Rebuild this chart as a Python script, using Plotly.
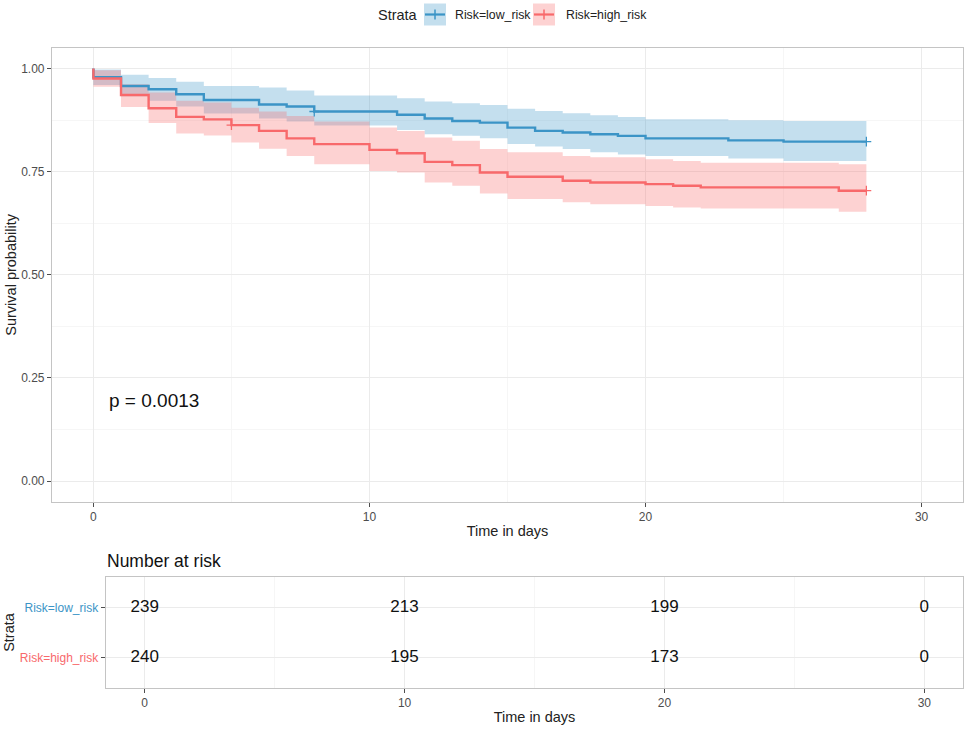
import plotly.graph_objects as go

# ---------------- data ----------------
end_time = 28
times_low = [0, 1, 2, 3, 4, 6, 7, 8, 11, 12, 13, 14, 15, 16, 17, 18, 19, 20, 23, 25]
surv_low = [0.979, 0.958, 0.950, 0.938, 0.924, 0.913, 0.908, 0.896, 0.888, 0.879,
            0.873, 0.869, 0.857, 0.849, 0.845, 0.841, 0.837, 0.831, 0.826, 0.823]
lower_low = [0.960, 0.933, 0.922, 0.908, 0.891, 0.879, 0.872, 0.862, 0.851, 0.841,
             0.837, 0.831, 0.817, 0.811, 0.805, 0.797, 0.792, 0.788, 0.782, 0.776]
upper_low = [0.998, 0.985, 0.977, 0.968, 0.958, 0.954, 0.947, 0.935, 0.928, 0.920,
             0.916, 0.912, 0.903, 0.897, 0.892, 0.887, 0.883, 0.877, 0.875, 0.873]
censor_low = [8, 28]

times_high = [0, 1, 2, 3, 4, 5, 6, 7, 8, 10, 11, 12, 13, 14, 15, 17, 18, 20, 21, 22, 27]
surv_high = [0.976, 0.936, 0.904, 0.883, 0.877, 0.863, 0.849, 0.831, 0.817, 0.803, 0.795,
             0.774, 0.766, 0.748, 0.738, 0.728, 0.724, 0.720, 0.716, 0.712, 0.704]
lower_high = [0.956, 0.907, 0.868, 0.843, 0.838, 0.821, 0.806, 0.788, 0.768, 0.752, 0.748,
              0.724, 0.716, 0.697, 0.684, 0.676, 0.671, 0.667, 0.663, 0.661, 0.653]
upper_high = [0.996, 0.962, 0.942, 0.922, 0.918, 0.905, 0.896, 0.885, 0.872, 0.857, 0.849,
              0.833, 0.825, 0.805, 0.797, 0.788, 0.785, 0.780, 0.776, 0.772, 0.768]
censor_high = [5, 28]

strata = ["Risk=low_risk", "Risk=high_risk"]
risk_times = [0, 10, 20, 30]
risk_low = [239, 213, 199, 0]
risk_high = [240, 195, 173, 0]
p_text = "p = 0.0013"

# ---------------- styles ----------------
W, H = 968, 730
BLUE = "#3B94C6"
RED = "#F8696B"
BLUE_F = "rgba(59,148,198,0.30)"
RED_F = "rgba(248,105,107,0.30)"
GRID = "#EBEBEB"
MINOR = "#F6F6F6"
BORDER = "#C4C4C4"
TICKC = "#4D4D4D"
FONT = "Liberation Sans, Arial, sans-serif"


def px(x):
    return x / W


def py(y):
    return 1 - y / H


def step_xy(times, vals):
    xs = [0] + list(times) + [end_time]
    ys = [1.0] + list(vals) + [vals[-1]]
    return xs, ys


def surv_at(times, vals, t):
    s = 1.0
    for ti, v in zip(times, vals):
        if ti <= t:
            s = v
    return s


fig = go.Figure()

groups = [
    (times_low, surv_low, lower_low, upper_low, censor_low, BLUE, BLUE_F, strata[0]),
    (times_high, surv_high, lower_high, upper_high, censor_high, RED, RED_F, strata[1]),
]

for times, surv, lo, up, cens, col, fcol, name in groups:
    xl, yl = step_xy(times, lo)
    xu, yu = step_xy(times, up)
    fig.add_trace(go.Scatter(x=xl, y=yl, mode="lines", line=dict(width=0, shape="hv"),
                             showlegend=False, hoverinfo="skip", xaxis="x", yaxis="y"))
    fig.add_trace(go.Scatter(x=xu, y=yu, mode="lines", line=dict(width=0, shape="hv"),
                             fill="tonexty", fillcolor=fcol, showlegend=False,
                             hoverinfo="skip", xaxis="x", yaxis="y"))

for times, surv, lo, up, cens, col, fcol, name in groups:
    xs, ys = step_xy(times, surv)
    fig.add_trace(go.Scatter(x=xs, y=ys, mode="lines", line=dict(color=col, width=2.4, shape="hv"),
                             name=name, showlegend=False, xaxis="x", yaxis="y"))
    fig.add_trace(go.Scatter(x=cens, y=[surv_at(times, surv, t) for t in cens], mode="markers",
                             marker=dict(symbol="cross-thin", size=7, line=dict(color=col, width=1.3)),
                             showlegend=False, xaxis="x", yaxis="y"))

# risk table
for vals, yrow in [(risk_low, 2), (risk_high, 1)]:
    fig.add_trace(go.Scatter(x=risk_times, y=[yrow] * len(risk_times), mode="text",
                             text=[str(v) for v in vals],
                             textfont=dict(size=17, color="#111111", family=FONT),
                             showlegend=False, xaxis="x2", yaxis="y2"))

axis_common = dict(showgrid=True, gridcolor=GRID, gridwidth=1, zeroline=False,
                   showline=True, mirror=True, linecolor=BORDER, linewidth=1.2,
                   ticks="outside", ticklen=4, tickcolor=TICKC, tickwidth=1,
                   tickfont=dict(size=12, color=TICKC, family=FONT))

fig.update_layout(
    width=W, height=H,
    margin=dict(l=0, r=0, t=0, b=0),
    paper_bgcolor="white", plot_bgcolor="white",
    font=dict(family=FONT),
    showlegend=False,
    xaxis=dict(domain=[px(52), px(963)], range=[-1.5, 31.5], tickvals=[0, 10, 20, 30],
               minor=dict(dtick=5, showgrid=True, gridcolor=MINOR, ticks=""),
               title=dict(text="Time in days", font=dict(size=14.5, color="#222222"), standoff=2),
               anchor="y", **axis_common),
    yaxis=dict(domain=[py(501.7), py(48)], range=[-0.05, 1.05],
               tickvals=[0, 0.25, 0.5, 0.75, 1.0],
               ticktext=["0.00", "0.25", "0.50", "0.75", "1.00"],
               minor=dict(dtick=0.125, showgrid=True, gridcolor=MINOR, ticks=""),
               title=dict(text="Survival probability", font=dict(size=14.5, color="#222222"), standoff=1),
               anchor="x", **axis_common),
    xaxis2=dict(domain=[px(105.7), px(963.3)], range=[-1.5, 31.5], tickvals=[0, 10, 20, 30],
                minor=dict(dtick=5, showgrid=True, gridcolor=MINOR, ticks=""),
                title=dict(text="Time in days", font=dict(size=14.5, color="#222222"), standoff=2),
                anchor="y2", **axis_common),
    yaxis2=dict(domain=[py(687.7), py(577.3)], range=[0.4, 2.6], tickvals=[2, 1],
                ticktext=[f"<span style='color:{BLUE}'>{strata[0]}</span>",
                          f"<span style='color:{RED}'>{strata[1]}</span>"],
                title=dict(text="Strata", font=dict(size=14.5, color="#222222"), standoff=1),
                anchor="x2", **axis_common),
)

annotations = [
    dict(text=p_text, x=0.5, y=0.195, xref="x", yref="y", xanchor="left", yanchor="middle",
         showarrow=False, font=dict(size=19, color="#111111", family=FONT)),
    dict(text="Number at risk", x=px(105), y=py(561), xref="paper", yref="paper",
         xanchor="left", yanchor="middle", showarrow=False,
         font=dict(size=17.5, color="#111111", family=FONT)),
    dict(text="Strata", x=px(420), y=py(14.5), xref="paper", yref="paper",
         xanchor="right", yanchor="middle", showarrow=False,
         font=dict(size=14.5, color="#222222", family=FONT)),
    dict(text=strata[0], x=px(453), y=py(14.5), xref="paper", yref="paper",
         xanchor="left", yanchor="middle", showarrow=False,
         font=dict(size=12.3, color="#222222", family=FONT)),
    dict(text=strata[1], x=px(564), y=py(14.5), xref="paper", yref="paper",
         xanchor="left", yanchor="middle", showarrow=False,
         font=dict(size=12.3, color="#222222", family=FONT)),
]
fig.update_layout(annotations=annotations)

shapes = []
for x0, col, fcol in [(424, BLUE, BLUE_F), (533, RED, RED_F)]:
    shapes.append(dict(type="rect", xref="paper", yref="paper", x0=px(x0), x1=px(x0 + 22),
                       y0=py(25.5), y1=py(3.5), fillcolor=fcol, line=dict(width=0), layer="above"))
    shapes.append(dict(type="line", xref="paper", yref="paper", x0=px(x0 + 1), x1=px(x0 + 21),
                       y0=py(14.5), y1=py(14.5), line=dict(color=col, width=2.2), layer="above"))
    shapes.append(dict(type="line", xref="paper", yref="paper", x0=px(x0 + 11), x1=px(x0 + 11),
                       y0=py(9.5), y1=py(19.5), line=dict(color=col, width=1.5), layer="above"))
fig.update_layout(shapes=shapes)

fig.write_html("out.html", config={"displayModeBar": False},
               post_script="document.body.style.margin='0';document.body.style.overflow='hidden';")
